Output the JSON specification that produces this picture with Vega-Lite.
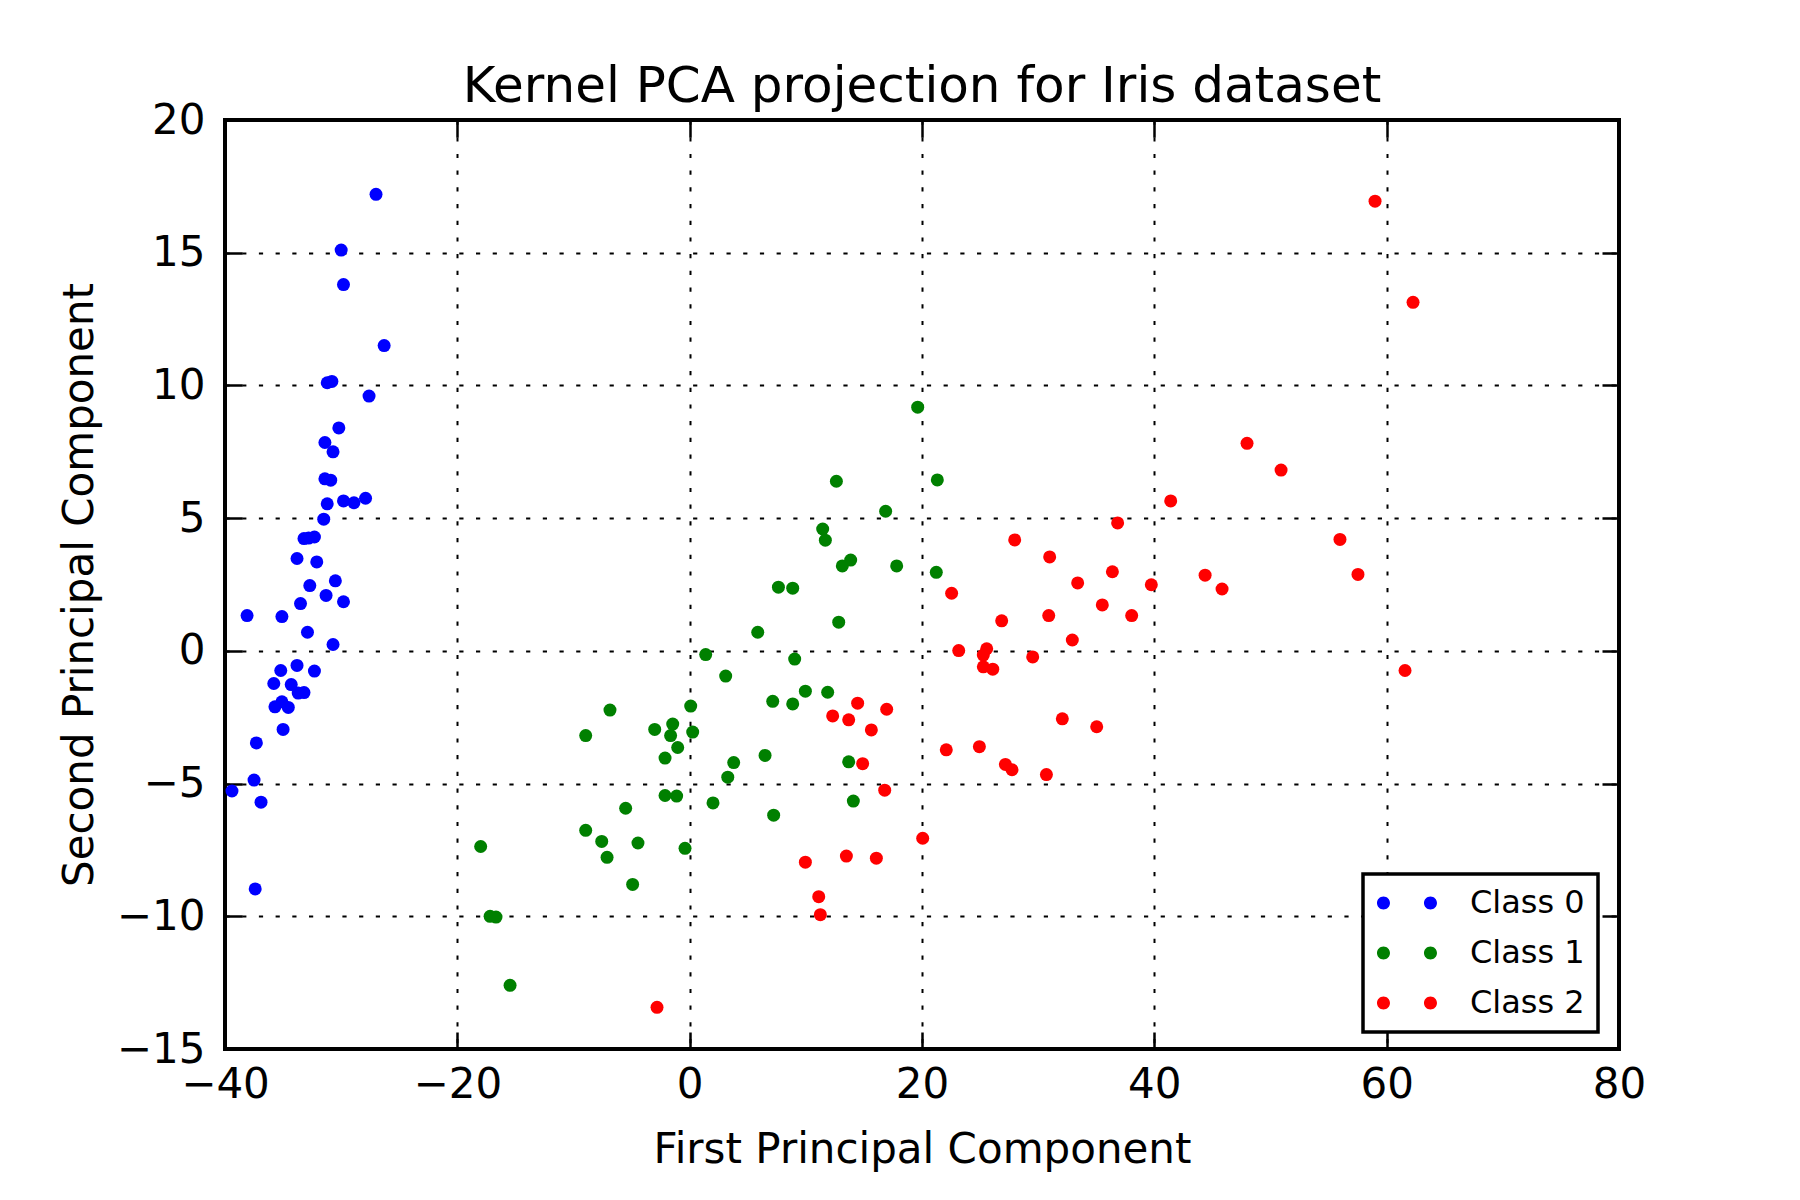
{
  "$schema": "https://vega.github.io/schema/vega-lite/v6.json",
  "title": {
    "text": "Kernel PCA projection for Iris dataset",
    "font": "DejaVu Sans",
    "fontSize": 50,
    "fontWeight": "normal",
    "color": "black",
    "anchor": "middle",
    "baseline": "alphabetic",
    "offset": -53
  },
  "width": 1394,
  "height": 929,
  "autosize": {"type": "none"},
  "padding": {"left": 225, "top": 120, "right": 181, "bottom": 151},
  "background": "#ffffff",
  "data": {
    "values": [
      {"pc1": -27.0, "pc2": 17.2, "cls": "Class 0"},
      {"pc1": -30.0, "pc2": 15.1, "cls": "Class 0"},
      {"pc1": -29.8, "pc2": 13.8, "cls": "Class 0"},
      {"pc1": -26.3, "pc2": 11.5, "cls": "Class 0"},
      {"pc1": -31.2, "pc2": 10.1, "cls": "Class 0"},
      {"pc1": -30.8, "pc2": 10.15, "cls": "Class 0"},
      {"pc1": -27.6, "pc2": 9.6, "cls": "Class 0"},
      {"pc1": -30.2, "pc2": 8.4, "cls": "Class 0"},
      {"pc1": -31.4, "pc2": 7.85, "cls": "Class 0"},
      {"pc1": -30.7, "pc2": 7.5, "cls": "Class 0"},
      {"pc1": -31.4, "pc2": 6.48, "cls": "Class 0"},
      {"pc1": -30.9, "pc2": 6.43, "cls": "Class 0"},
      {"pc1": -31.2, "pc2": 5.54, "cls": "Class 0"},
      {"pc1": -29.8, "pc2": 5.65, "cls": "Class 0"},
      {"pc1": -28.9, "pc2": 5.58, "cls": "Class 0"},
      {"pc1": -27.9, "pc2": 5.75, "cls": "Class 0"},
      {"pc1": -31.5, "pc2": 4.96, "cls": "Class 0"},
      {"pc1": -33.2, "pc2": 4.23, "cls": "Class 0"},
      {"pc1": -32.8, "pc2": 4.25, "cls": "Class 0"},
      {"pc1": -32.3, "pc2": 4.29, "cls": "Class 0"},
      {"pc1": -33.8, "pc2": 3.48, "cls": "Class 0"},
      {"pc1": -32.1, "pc2": 3.35, "cls": "Class 0"},
      {"pc1": -30.5, "pc2": 2.64, "cls": "Class 0"},
      {"pc1": -32.7, "pc2": 2.46, "cls": "Class 0"},
      {"pc1": -31.3, "pc2": 2.09, "cls": "Class 0"},
      {"pc1": -29.8, "pc2": 1.85, "cls": "Class 0"},
      {"pc1": -33.5, "pc2": 1.78, "cls": "Class 0"},
      {"pc1": -38.1, "pc2": 1.33, "cls": "Class 0"},
      {"pc1": -35.1, "pc2": 1.29, "cls": "Class 0"},
      {"pc1": -32.9, "pc2": 0.7, "cls": "Class 0"},
      {"pc1": -30.7, "pc2": 0.24, "cls": "Class 0"},
      {"pc1": -33.8, "pc2": -0.55, "cls": "Class 0"},
      {"pc1": -35.2, "pc2": -0.74, "cls": "Class 0"},
      {"pc1": -32.3, "pc2": -0.76, "cls": "Class 0"},
      {"pc1": -35.8, "pc2": -1.23, "cls": "Class 0"},
      {"pc1": -34.3, "pc2": -1.27, "cls": "Class 0"},
      {"pc1": -33.7, "pc2": -1.59, "cls": "Class 0"},
      {"pc1": -33.2, "pc2": -1.57, "cls": "Class 0"},
      {"pc1": -35.7, "pc2": -2.11, "cls": "Class 0"},
      {"pc1": -35.1, "pc2": -1.92, "cls": "Class 0"},
      {"pc1": -34.55, "pc2": -2.13, "cls": "Class 0"},
      {"pc1": -35.0, "pc2": -2.96, "cls": "Class 0"},
      {"pc1": -37.3, "pc2": -3.47, "cls": "Class 0"},
      {"pc1": -37.5, "pc2": -4.87, "cls": "Class 0"},
      {"pc1": -39.4, "pc2": -5.28, "cls": "Class 0"},
      {"pc1": -36.9, "pc2": -5.7, "cls": "Class 0"},
      {"pc1": -37.4, "pc2": -8.97, "cls": "Class 0"},
      {"pc1": 1.38, "pc2": -0.14, "cls": "Class 1"},
      {"pc1": 0.09, "pc2": -2.08, "cls": "Class 1"},
      {"pc1": -6.86, "pc2": -2.23, "cls": "Class 1"},
      {"pc1": -8.95, "pc2": -3.19, "cls": "Class 1"},
      {"pc1": -3.01, "pc2": -2.96, "cls": "Class 1"},
      {"pc1": -1.46, "pc2": -2.76, "cls": "Class 1"},
      {"pc1": -1.64, "pc2": -3.19, "cls": "Class 1"},
      {"pc1": 0.26, "pc2": -3.06, "cls": "Class 1"},
      {"pc1": -1.03, "pc2": -3.64, "cls": "Class 1"},
      {"pc1": -2.12, "pc2": -4.04, "cls": "Class 1"},
      {"pc1": -2.12, "pc2": -5.45, "cls": "Class 1"},
      {"pc1": -1.12, "pc2": -5.47, "cls": "Class 1"},
      {"pc1": 2.01, "pc2": -5.73, "cls": "Class 1"},
      {"pc1": -5.51, "pc2": -5.93, "cls": "Class 1"},
      {"pc1": -17.99, "pc2": -7.37, "cls": "Class 1"},
      {"pc1": -8.95, "pc2": -6.76, "cls": "Class 1"},
      {"pc1": -7.57, "pc2": -7.18, "cls": "Class 1"},
      {"pc1": -4.45, "pc2": -7.24, "cls": "Class 1"},
      {"pc1": -0.4, "pc2": -7.44, "cls": "Class 1"},
      {"pc1": -7.11, "pc2": -7.78, "cls": "Class 1"},
      {"pc1": -4.91, "pc2": -8.8, "cls": "Class 1"},
      {"pc1": -17.18, "pc2": -10.0, "cls": "Class 1"},
      {"pc1": -16.67, "pc2": -10.03, "cls": "Class 1"},
      {"pc1": -15.46, "pc2": -12.6, "cls": "Class 1"},
      {"pc1": 19.63, "pc2": 9.18, "cls": "Class 1"},
      {"pc1": 12.63, "pc2": 6.39, "cls": "Class 1"},
      {"pc1": 21.32, "pc2": 6.44, "cls": "Class 1"},
      {"pc1": 16.87, "pc2": 5.26, "cls": "Class 1"},
      {"pc1": 11.45, "pc2": 4.59, "cls": "Class 1"},
      {"pc1": 11.68, "pc2": 4.17, "cls": "Class 1"},
      {"pc1": 13.14, "pc2": 3.2, "cls": "Class 1"},
      {"pc1": 13.86, "pc2": 3.42, "cls": "Class 1"},
      {"pc1": 17.82, "pc2": 3.2, "cls": "Class 1"},
      {"pc1": 21.23, "pc2": 2.96, "cls": "Class 1"},
      {"pc1": 7.64, "pc2": 2.4, "cls": "Class 1"},
      {"pc1": 8.87, "pc2": 2.36, "cls": "Class 1"},
      {"pc1": 12.83, "pc2": 1.08, "cls": "Class 1"},
      {"pc1": 5.86, "pc2": 0.7, "cls": "Class 1"},
      {"pc1": 9.04, "pc2": -0.31, "cls": "Class 1"},
      {"pc1": 3.1, "pc2": -0.95, "cls": "Class 1"},
      {"pc1": 9.96, "pc2": -1.52, "cls": "Class 1"},
      {"pc1": 11.88, "pc2": -1.56, "cls": "Class 1"},
      {"pc1": 7.15, "pc2": -1.9, "cls": "Class 1"},
      {"pc1": 8.87, "pc2": -2.0, "cls": "Class 1"},
      {"pc1": 3.79, "pc2": -4.21, "cls": "Class 1"},
      {"pc1": 6.49, "pc2": -3.94, "cls": "Class 1"},
      {"pc1": 3.28, "pc2": -4.76, "cls": "Class 1"},
      {"pc1": 13.69, "pc2": -4.18, "cls": "Class 1"},
      {"pc1": 7.23, "pc2": -6.19, "cls": "Class 1"},
      {"pc1": 14.09, "pc2": -5.66, "cls": "Class 1"},
      {"pc1": -2.81, "pc2": -13.43, "cls": "Class 2"},
      {"pc1": 22.55, "pc2": 2.17, "cls": "Class 2"},
      {"pc1": 23.16, "pc2": 0.01, "cls": "Class 2"},
      {"pc1": 14.46, "pc2": -1.97, "cls": "Class 2"},
      {"pc1": 16.96, "pc2": -2.2, "cls": "Class 2"},
      {"pc1": 12.31, "pc2": -2.45, "cls": "Class 2"},
      {"pc1": 13.69, "pc2": -2.6, "cls": "Class 2"},
      {"pc1": 15.64, "pc2": -2.98, "cls": "Class 2"},
      {"pc1": 22.09, "pc2": -3.73, "cls": "Class 2"},
      {"pc1": 14.89, "pc2": -4.25, "cls": "Class 2"},
      {"pc1": 16.79, "pc2": -5.25, "cls": "Class 2"},
      {"pc1": 20.06, "pc2": -7.06, "cls": "Class 2"},
      {"pc1": 13.49, "pc2": -7.73, "cls": "Class 2"},
      {"pc1": 16.07, "pc2": -7.81, "cls": "Class 2"},
      {"pc1": 9.96, "pc2": -7.96, "cls": "Class 2"},
      {"pc1": 11.11, "pc2": -9.26, "cls": "Class 2"},
      {"pc1": 11.25, "pc2": -9.94, "cls": "Class 2"},
      {"pc1": 41.41, "pc2": 5.65, "cls": "Class 2"},
      {"pc1": 36.84, "pc2": 4.82, "cls": "Class 2"},
      {"pc1": 27.98, "pc2": 4.18, "cls": "Class 2"},
      {"pc1": 30.99, "pc2": 3.54, "cls": "Class 2"},
      {"pc1": 36.39, "pc2": 2.98, "cls": "Class 2"},
      {"pc1": 33.4, "pc2": 2.56, "cls": "Class 2"},
      {"pc1": 39.74, "pc2": 2.49, "cls": "Class 2"},
      {"pc1": 35.52, "pc2": 1.73, "cls": "Class 2"},
      {"pc1": 38.05, "pc2": 1.33, "cls": "Class 2"},
      {"pc1": 26.86, "pc2": 1.13, "cls": "Class 2"},
      {"pc1": 30.91, "pc2": 1.33, "cls": "Class 2"},
      {"pc1": 32.94, "pc2": 0.41, "cls": "Class 2"},
      {"pc1": 25.57, "pc2": 0.08, "cls": "Class 2"},
      {"pc1": 25.28, "pc2": -0.16, "cls": "Class 2"},
      {"pc1": 29.53, "pc2": -0.23, "cls": "Class 2"},
      {"pc1": 25.28, "pc2": -0.6, "cls": "Class 2"},
      {"pc1": 26.09, "pc2": -0.69, "cls": "Class 2"},
      {"pc1": 32.08, "pc2": -2.56, "cls": "Class 2"},
      {"pc1": 35.04, "pc2": -2.86, "cls": "Class 2"},
      {"pc1": 24.94, "pc2": -3.61, "cls": "Class 2"},
      {"pc1": 27.18, "pc2": -4.28, "cls": "Class 2"},
      {"pc1": 27.75, "pc2": -4.48, "cls": "Class 2"},
      {"pc1": 30.71, "pc2": -4.66, "cls": "Class 2"},
      {"pc1": 59.0, "pc2": 16.94, "cls": "Class 2"},
      {"pc1": 62.27, "pc2": 13.13, "cls": "Class 2"},
      {"pc1": 47.98, "pc2": 7.82, "cls": "Class 2"},
      {"pc1": 50.91, "pc2": 6.81, "cls": "Class 2"},
      {"pc1": 55.98, "pc2": 4.2, "cls": "Class 2"},
      {"pc1": 44.37, "pc2": 2.85, "cls": "Class 2"},
      {"pc1": 45.83, "pc2": 2.33, "cls": "Class 2"},
      {"pc1": 57.53, "pc2": 2.88, "cls": "Class 2"},
      {"pc1": 61.58, "pc2": -0.74, "cls": "Class 2"}
    ]
  },
  "layer": [
    {
      "mark": {"type": "point", "shape": "circle", "filled": true, "opacity": 1, "size": 169, "strokeWidth": 0},
      "encoding": {
        "x": {
          "field": "pc1",
          "type": "quantitative",
          "scale": {"domain": [-40, 80], "nice": false, "zero": false},
          "axis": {
            "orient": "bottom",
            "values": [-40, -20, 0, 20, 40, 60, 80],
            "grid": true,
            "labelFlush": false,
            "labelOverlap": false,
            "labelPadding": 32,
            "title": "First Principal Component",
            "titleY": 113,
            "titleBaseline": "alphabetic"
          }
        },
        "y": {
          "field": "pc2",
          "type": "quantitative",
          "scale": {"domain": [-15, 20], "nice": false, "zero": false},
          "axis": {
            "orient": "left",
            "values": [-15, -10, -5, 0, 5, 10, 15, 20],
            "grid": true,
            "labelFlush": false,
            "labelOverlap": false,
            "labelPadding": 37,
            "title": "Second Principal Component",
            "titleX": -133,
            "titleY": 464.5,
            "titleAngle": -90,
            "titleAlign": "center",
            "titleBaseline": "alphabetic"
          }
        },
        "color": {
          "field": "cls",
          "type": "nominal",
          "scale": {"domain": ["Class 0", "Class 1", "Class 2"], "range": ["#0000ff", "#008000", "#ff0000"]},
          "legend": {
            "title": null,
            "orient": "none",
            "legendX": 1138,
            "legendY": 754,
            "padding": 13,
            "strokeColor": "black",
            "fillColor": "white",
            "symbolType": "M -2.31 0 A 1 1 0 1 1 -0.31 0 A 1 1 0 1 1 -2.31 0 Z M 4.92 0 A 1 1 0 1 1 6.92 0 A 1 1 0 1 1 4.92 0 Z",
            "symbolSize": 169,
            "symbolStrokeWidth": 0,
            "symbolOpacity": 1,
            "labelOffset": 62,
            "labelFont": "DejaVu Sans",
            "labelFontSize": 32,
            "labelColor": "black",
            "rowPadding": 18
          }
        }
      }
    },
    {
      "mark": {"type": "point", "opacity": 0, "size": 1},
      "encoding": {
        "x": {
          "field": "pc1",
          "type": "quantitative",
          "axis": {"orient": "top", "values": [-40, -20, 0, 20, 40, 60, 80], "labels": false, "grid": false, "title": null}
        },
        "y": {
          "field": "pc2",
          "type": "quantitative",
          "axis": {"orient": "right", "values": [-15, -10, -5, 0, 5, 10, 15, 20], "labels": false, "grid": false, "title": null}
        }
      }
    }
  ],
  "resolve": {"axis": {"x": "independent", "y": "independent"}},
  "config": {
    "view": {"stroke": "black", "strokeWidth": 4},
    "legend": {"strokeWidth": 3.5},
    "axis": {
      "labelFont": "DejaVu Sans",
      "titleFont": "DejaVu Sans",
      "labelFontSize": 42,
      "titleFontSize": 42,
      "labelColor": "black",
      "titleColor": "black",
      "titleFontWeight": "normal",
      "domain": false,
      "ticks": true,
      "tickColor": "black",
      "tickWidth": 2.5,
      "tickSize": -17,
      "gridColor": "black",
      "gridWidth": 2,
      "gridOpacity": 1,
      "gridDash": [4.2, 12.5]
    }
  }
}
